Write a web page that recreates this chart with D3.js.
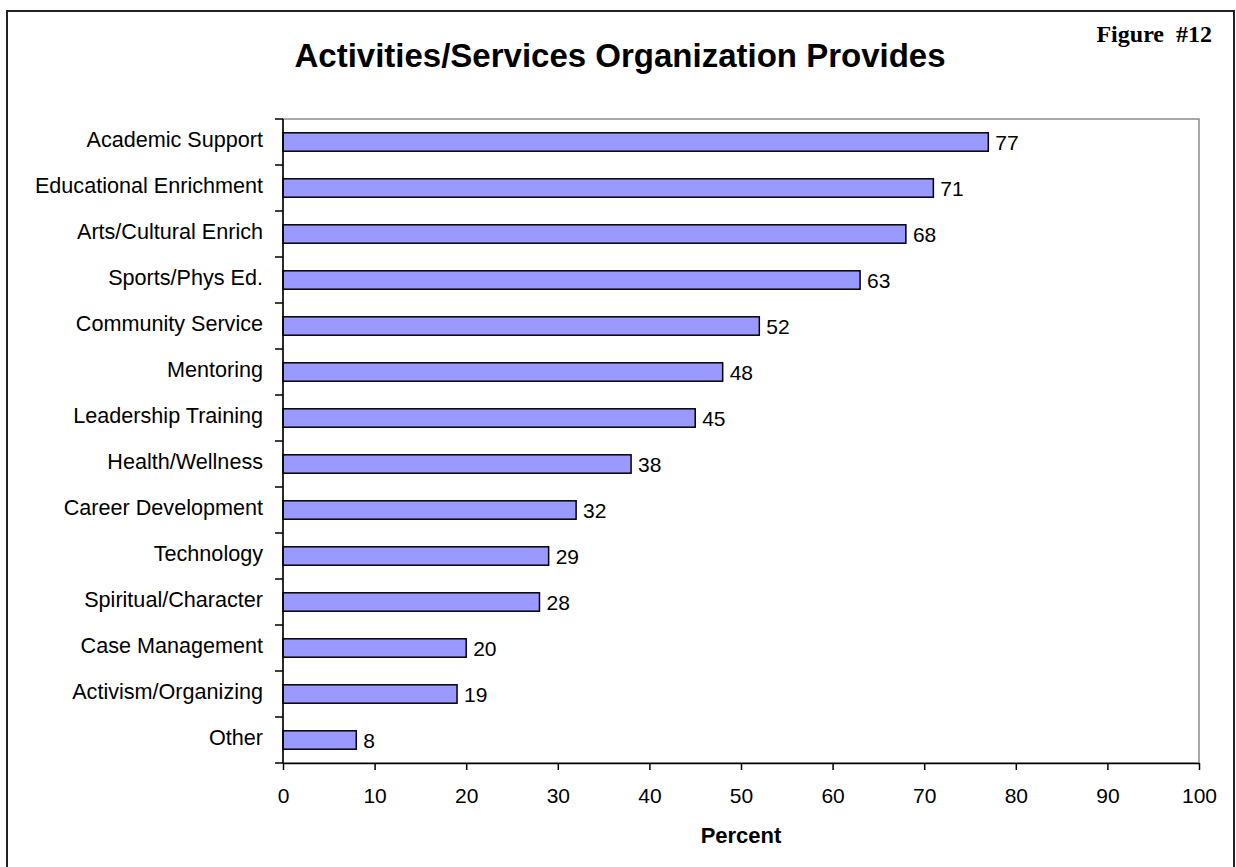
<!DOCTYPE html>
<html>
<head>
<meta charset="utf-8">
<script src="https://cdn.jsdelivr.net/npm/d3@7/dist/d3.min.js"></script>
<style>
  html, body { margin: 0; padding: 0; background: #fff; }
  svg { display: block; }
  text { font-family: Arial, "Liberation Sans", sans-serif; fill: #000; }
</style>
</head>
<body>
<script>
// Share of organizations offering each activity / service (percent)
const categories = [
  "Academic Support", "Educational Enrichment", "Arts/Cultural Enrich",
  "Sports/Phys Ed.", "Community Service", "Mentoring", "Leadership Training",
  "Health/Wellness", "Career Development", "Technology", "Spiritual/Character",
  "Case Management", "Activism/Organizing", "Other"
];
const percents = [77, 71, 68, 63, 52, 48, 45, 38, 32, 29, 28, 20, 19, 8];
const xTicks = [0, 10, 20, 30, 40, 50, 60, 70, 80, 90, 100];

const chartTitle = "Activities/Services Organization Provides";
const figureLabel = "Figure  #12";
const xTitle = "Percent";

const W = 1236, H = 867;
const plot = { left: 283, right: 1199, top: 119, bottom: 763 };

const svg = d3.select("body").append("svg")
  .attr("width", W).attr("height", H);

// outer frame
svg.append("rect")
  .attr("x", 7).attr("y", 11)
  .attr("width", 1227).attr("height", 900)
  .attr("fill", "#fff").attr("stroke", "#222").attr("stroke-width", 2);

const x = d3.scaleLinear().domain([0, 100]).range([plot.left, plot.right]);
const y = d3.scaleBand().domain(categories)
  .range([plot.top, plot.bottom])
  .paddingInner(0.6).paddingOuter(0.3);

// plot area frame (top and right edges stay grey)
svg.append("rect")
  .attr("x", plot.left).attr("y", plot.top)
  .attr("width", plot.right - plot.left).attr("height", plot.bottom - plot.top)
  .attr("fill", "none").attr("stroke", "#8c8c8c").attr("stroke-width", 1.5);

// bars
svg.append("g").selectAll("rect")
  .data(categories)
  .join("rect")
  .attr("x", x(0))
  .attr("y", d => y(d))
  .attr("width", (d, i) => x(percents[i]) - x(0))
  .attr("height", y.bandwidth())
  .attr("fill", "#9999ff")
  .attr("stroke", "#000")
  .attr("stroke-width", 1.5);

// value labels
svg.append("g").selectAll("text")
  .data(categories)
  .join("text")
  .attr("x", (d, i) => x(percents[i]) + 7)
  .attr("y", d => y(d) + y.bandwidth() / 2)
  .attr("dy", "0.38em")
  .attr("font-size", 21)
  .text((d, i) => percents[i]);

// category axis
const yAxis = svg.append("g")
  .attr("transform", `translate(${plot.left},0)`)
  .call(d3.axisLeft(y).tickSize(0).tickPadding(20));
yAxis.select(".domain").remove();
yAxis.selectAll("text")
  .attr("font-size", 21.6)
  .attr("dy", "0.25em")
  .style("font-family", "Arial, 'Liberation Sans', sans-serif");

// category boundary ticks
const step = y.step();
const bounds = categories.map(c => y(c) - step * y.paddingInner() / 2)
  .concat([y(categories[categories.length - 1]) + y.bandwidth() + step * y.paddingInner() / 2]);
svg.append("g").selectAll("line")
  .data(bounds)
  .join("line")
  .attr("x1", plot.left - 8).attr("x2", plot.left)
  .attr("y1", d => d).attr("y2", d => d)
  .attr("stroke", "#000").attr("stroke-width", 1.5);

svg.append("line")
  .attr("x1", plot.left).attr("x2", plot.left)
  .attr("y1", plot.top).attr("y2", plot.bottom)
  .attr("stroke", "#000").attr("stroke-width", 1.5);

// value axis
const xAxis = svg.append("g")
  .attr("transform", `translate(0,${plot.bottom})`)
  .call(d3.axisBottom(x).tickValues(xTicks).tickSize(7).tickSizeOuter(0).tickPadding(18));
xAxis.select(".domain").attr("stroke", "#000").attr("stroke-width", 1.5);
xAxis.selectAll(".tick line").attr("stroke", "#000").attr("stroke-width", 1.5);
xAxis.selectAll("text")
  .attr("font-size", 21)
  .style("font-family", "Arial, 'Liberation Sans', sans-serif");

// titles
svg.append("text")
  .attr("x", 620).attr("y", 67)
  .attr("text-anchor", "middle")
  .attr("font-size", 33).attr("font-weight", "bold")
  .text(chartTitle);

svg.append("text")
  .attr("x", 1212).attr("y", 42)
  .attr("text-anchor", "end")
  .attr("font-size", 24).attr("font-weight", "bold")
  .style("font-family", "'Times New Roman', 'Liberation Serif', serif")
  .attr("xml:space", "preserve")
  .style("white-space", "pre")
  .text(figureLabel);

svg.append("text")
  .attr("x", 741).attr("y", 843)
  .attr("text-anchor", "middle")
  .attr("font-size", 22).attr("font-weight", "bold")
  .text(xTitle);
</script>
</body>
</html>
